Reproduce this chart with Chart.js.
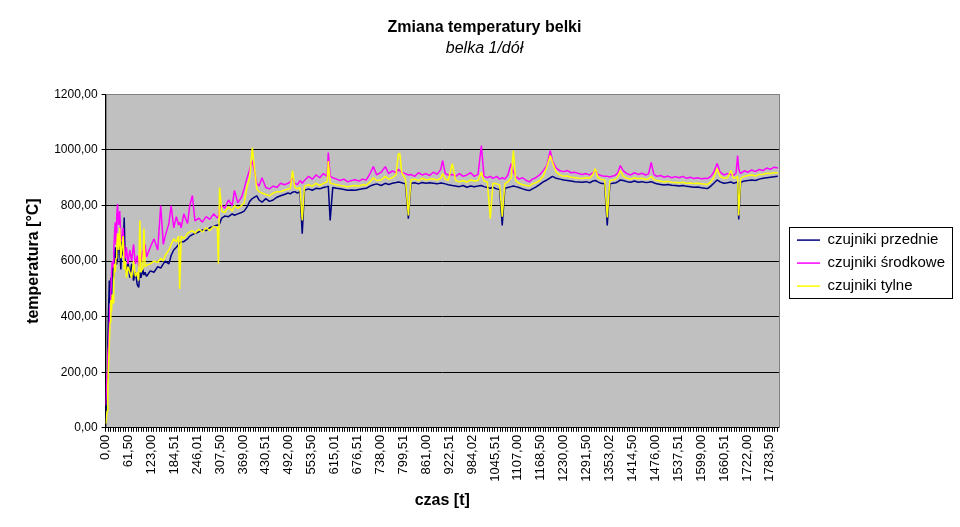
<!DOCTYPE html>
<html>
<head>
<meta charset="utf-8">
<title>Zmiana temperatury belki</title>
<script src="https://cdn.jsdelivr.net/npm/chart.js@4.4.0/dist/chart.umd.min.js"></script>
<style>
  body { margin: 0; background: #fff; }
  #wrap { width: 960px; height: 527px; }
</style>
</head>
<body>
<div id="wrap"><canvas id="wykres"></canvas></div>
<script>

// czas pomiaru [s] - wspolny dla wszystkich czujnikow
const czas = [
  0, 2, 4, 6, 8, 10, 12, 14, 16, 18,
  20, 22, 24, 26, 28, 30, 32, 35, 38, 41,
  44, 47, 50, 53, 56, 60, 65, 70, 75, 80,
  85, 89, 92, 95, 100, 103, 106, 110, 120, 130,
  140, 148, 155, 160, 170, 176, 183, 190, 196, 199,
  203, 210, 220, 226, 233, 240, 250, 260, 270, 280,
  290, 300, 303, 306, 312, 320, 330, 340, 346, 355,
  365, 372, 380, 387, 394, 400, 406, 412, 420, 430,
  440, 450, 460, 470, 480, 490, 496, 502, 508, 515,
  522, 528, 534, 545, 555, 565, 575, 585, 595, 598,
  603, 610, 620, 630, 640, 650, 660, 670, 680, 690,
  700, 710, 719, 728, 740, 751, 760, 770, 780, 786,
  790, 795, 805, 813, 820, 830, 840, 850, 860, 870,
  880, 890, 900, 905, 912, 920, 931, 940, 950, 960,
  970, 980, 990, 1000, 1009, 1016, 1025, 1033, 1040, 1050,
  1058, 1065, 1072, 1080, 1089, 1095, 1101, 1110, 1120, 1130,
  1138, 1146, 1155, 1165, 1175, 1185, 1194, 1200, 1210, 1220,
  1230, 1240, 1250, 1260, 1270, 1280, 1290, 1300, 1308, 1315,
  1322, 1330, 1340, 1347, 1354, 1362, 1370, 1376, 1382, 1390,
  1400, 1410, 1420, 1430, 1440, 1450, 1458, 1465, 1472, 1480,
  1490, 1500, 1510, 1520, 1530, 1540, 1550, 1560, 1570, 1580,
  1590, 1600, 1610, 1616, 1625, 1633, 1642, 1650, 1660, 1670,
  1679, 1686, 1693, 1697, 1700, 1705, 1715, 1725, 1735, 1745,
  1755, 1765, 1775, 1785, 1795, 1805
];

// czujniki przednie [C]
const przednie = [
  30, 80, 180, 300, 420, 530, 450, 540, 480, 560,
  590, 540, 610, 650, 590, 640, 600, 680, 640, 570,
  690, 620, 757, 580, 560, 600, 540, 590, 530, 560,
  515, 505, 560, 540, 570, 550, 560, 545, 565, 560,
  580, 575, 590, 600, 590, 620, 640, 650, 660, 665,
  670, 670, 680, 690, 695, 700, 705, 712, 710, 720,
  725, 730, 728, 735, 755, 762, 760, 770, 765, 770,
  775, 780, 795, 815, 825, 830, 835, 820, 812, 825,
  815, 820, 830, 835, 840, 845, 842, 848, 850, 845,
  850, 699, 855, 860, 855, 862, 860, 865, 868, 870,
  746, 865, 862, 860, 858, 855, 856, 855, 858, 860,
  862, 870, 875, 878, 872, 880, 876, 880, 883, 885,
  884, 882, 878, 753, 880, 882, 878, 883, 880, 882,
  880, 878, 881, 880, 878, 875, 872, 870, 868, 872,
  866, 870, 868, 870, 872, 868, 865, 862, 866, 860,
  858, 728, 862, 865, 868, 870, 868, 865, 860, 856,
  854, 860, 866, 875, 885, 892, 900, 905, 898, 895,
  892, 890, 888, 886, 885, 884, 886, 882, 888, 890,
  885, 880, 878, 728, 878, 880, 882, 886, 892, 890,
  886, 884, 888, 884, 886, 883, 884, 886, 882, 878,
  876, 874, 876, 873, 872, 870, 872, 869, 868, 866,
  867, 864, 862, 861, 870, 880, 892, 885, 880, 882,
  885, 880, 883, 885, 750, 884, 888, 890, 892, 890,
  895, 898, 900, 902, 904, 905
];

// czujniki srodkowe [C]
const srodkowe = [
  80, 140, 200, 260, 300, 360, 440, 480, 560, 600,
  580, 640, 700, 740, 660, 760, 805, 730, 780, 690,
  670, 720, 640, 610, 650, 590, 640, 600, 660, 590,
  620, 580, 610, 600, 640, 620, 660, 615, 650, 680,
  640, 800, 660, 690, 735, 800, 720, 760, 730, 740,
  720, 770, 735, 800, 836, 745, 755, 740, 760, 750,
  770, 755, 760, 790, 800, 790, 820, 800, 854, 810,
  830, 860, 900, 930, 962, 920, 880, 870, 900, 865,
  860, 870, 865, 880, 875, 880, 885, 900, 880, 875,
  890, 880, 890, 905, 895, 910, 900, 915, 905, 991,
  905, 900, 895, 890, 895, 885, 890, 893, 888, 895,
  892, 915, 940, 910, 920, 940, 915, 925, 918, 930,
  925, 920, 915, 910, 912, 905, 918, 910, 915, 908,
  920, 912, 930, 962, 915, 910, 912, 905, 915, 905,
  910, 918, 905, 912, 1016, 905, 900, 905, 898, 905,
  895, 900, 895, 910, 951, 920, 905, 895, 900, 890,
  885, 895, 900, 910, 925, 945, 998, 960, 935, 925,
  922, 926, 918, 920, 915, 912, 915, 910, 918, 925,
  912, 908, 905, 905, 903, 906, 910, 920, 944, 925,
  915, 910, 918, 912, 916, 910, 914, 955, 912, 905,
  908, 902, 906, 900, 904, 900, 905, 898, 902, 897,
  900, 896, 898, 897, 905, 920, 951, 920, 910, 915,
  912, 908, 918, 980, 930, 915, 925, 920, 928, 922,
  930, 926, 935, 930, 938, 935
];

// czujniki tylne [C]
const tylne = [
  15, 30, 60, 150, 230, 300, 380, 460, 420, 480,
  450, 520, 590, 560, 610, 650, 700, 640, 720, 610,
  650, 690, 570, 600, 540, 580, 560, 540, 600, 545,
  560, 530, 746, 560, 575, 717, 580, 585, 590, 600,
  595, 610, 600, 620, 640, 660, 680, 670, 690, 500,
  690, 680, 700, 705, 710, 700, 715, 705, 720, 710,
  725, 720, 591, 865, 780, 775, 795, 780, 800, 790,
  800, 810, 870, 900, 1009, 930, 860, 850, 845, 840,
  835, 845, 850, 850, 855, 860, 860, 926, 865, 860,
  865, 746, 870, 875, 870, 880, 872, 880, 885, 960,
  880, 878, 875, 872, 870, 868, 870, 872, 870, 875,
  873, 885, 900, 890, 892, 905, 895, 900, 910, 985,
  988, 920, 895, 764, 893, 895, 890, 898, 892, 895,
  896, 892, 898, 915, 895, 890, 951, 890, 885, 890,
  884, 892, 888, 890, 920, 888, 885, 753, 880, 878,
  875, 760, 878, 885, 900, 998, 890, 880, 875, 872,
  870, 878, 882, 890, 905, 940, 980, 955, 920, 910,
  905, 906, 902, 900, 898, 897, 900, 898, 910, 933,
  900, 895, 892, 757, 890, 892, 895, 905, 926, 905,
  898, 895, 900, 896, 898, 894, 896, 905, 894, 890,
  888, 885, 887, 884, 883, 882, 884, 880, 881, 879,
  880, 878, 877, 876, 885, 900, 933, 905, 898, 900,
  926, 898, 900, 905, 764, 898, 905, 908, 910, 906,
  912, 912, 916, 915, 918, 918
];

// opisy osi czasu
const etykietyCzasu = [
  '0,00', '61,50', '123,00', '184,51', '246,01', '307,50', '369,00', '430,51',
  '492,00', '553,50', '615,01', '676,51', '738,00', '799,51', '861,00', '922,51',
  '984,02', '1045,51', '1107,00', '1168,50', '1230,00', '1291,50', '1353,02', '1414,50',
  '1476,00', '1537,51', '1599,00', '1660,51', '1722,00', '1783,50'
];

const maxCzas = 1808;
const wartosciEtykiet = etykietyCzasu.map(function (s) { return parseFloat(s.replace(',', '.')); });

Chart.defaults.font.family = '"Liberation Sans", Arial, sans-serif';
Chart.defaults.color = '#000';

function punkty(wartosci) {
  return czas.map(function (t, i) { return { x: t, y: wartosci[i] }; });
}

// podzialka glowna + 8 pomocniczych kresek miedzy etykietami
function kreskiCzasu() {
  var ticks = [];
  for (var i = 0; i < wartosciEtykiet.length; i++) {
    var a = wartosciEtykiet[i];
    var b = i + 1 < wartosciEtykiet.length ? wartosciEtykiet[i + 1] : a + 61.5;
    for (var k = 0; k < 9; k++) {
      var v = k === 0 ? a : a + (b - a) * k / 9;
      if (v <= maxCzas) ticks.push({ value: v });
    }
  }
  return ticks;
}

// szare tlo obszaru wykresu
const tloWykresu = {
  id: 'tloWykresu',
  beforeDraw: function (chart) {
    var a = chart.chartArea, ctx = chart.ctx;
    ctx.save();
    ctx.fillStyle = '#C0C0C0';
    ctx.fillRect(a.left, a.top, a.right - a.left, a.bottom - a.top);
    ctx.strokeStyle = '#808080';
    ctx.lineWidth = 1;
    ctx.strokeRect(Math.round(a.left) + 0.5, Math.round(a.top) + 0.5,
      Math.round(a.right - a.left), Math.round(a.bottom - a.top));
    ctx.restore();
  }
};

// legenda odsunieta o 10 px od obszaru wykresu, z ramka
const ramkaLegendy = {
  id: 'ramkaLegendy',
  afterLayout: function (chart) {
    var lg = chart.legend;
    if (lg) { lg.left += 10; lg.right += 10; }
  },
  afterDraw: function (chart) {
    var boxes = chart.legend.legendHitBoxes;
    if (!boxes || !boxes.length) return;
    var l = Infinity, t = Infinity, r = -Infinity, b = -Infinity;
    boxes.forEach(function (h) {
      l = Math.min(l, h.left); t = Math.min(t, h.top);
      r = Math.max(r, h.left + h.width); b = Math.max(b, h.top + h.height);
    });
    var ctx = chart.ctx;
    ctx.save();
    ctx.strokeStyle = '#000';
    ctx.lineWidth = 1;
    ctx.strokeRect(Math.round(l - 8) + 0.5, Math.round(t - 6) + 0.5,
      Math.round(r - l + 15), Math.round(b - t + 10));
    ctx.restore();
  }
};

function seria(nazwa, dane, kolor, kolejnosc) {
  return {
    label: nazwa,
    data: punkty(dane),
    borderColor: kolor,
    backgroundColor: kolor,
    borderWidth: 1.5,
    pointRadius: 0,
    borderJoinStyle: 'bevel',
    fill: false,
    tension: 0,
    order: kolejnosc
  };
}

new Chart(document.getElementById('wykres'), {
  type: 'line',
  data: {
    datasets: [
      seria('czujniki przednie', przednie, '#000080', 3),
      seria('czujniki środkowe', srodkowe, '#FF00FF', 2),
      seria('czujniki tylne', tylne, '#FFFF00', 1)
    ]
  },
  plugins: [tloWykresu, ramkaLegendy],
  options: {
    responsive: true,
    maintainAspectRatio: false,
    animation: false,
    events: [],
    layout: { padding: { left: 24, right: 15, top: 0, bottom: 9 } },
    plugins: {
      title: {
        display: true,
        text: 'Zmiana temperatury belki',
        font: { size: 16, weight: 'bold' },
        padding: { top: 18, bottom: 2 }
      },
      subtitle: {
        display: true,
        text: 'belka 1/dół',
        font: { size: 16, style: 'italic', weight: 'normal' },
        padding: { top: 0, bottom: 36 }
      },
      legend: {
        position: 'right',
        title: { display: true, text: ' ', font: { size: 1 }, padding: { top: 3, bottom: 4 } },
        labels: {
          usePointStyle: true,
          pointStyle: 'line',
          pointStyleWidth: 23,
          boxHeight: 15,
          padding: 8,
          font: { size: 15 },
          sort: function (a, b) { return a.datasetIndex - b.datasetIndex; }
        }
      },
      tooltip: { enabled: false }
    },
    scales: {
      x: {
        type: 'linear',
        min: 0,
        max: maxCzas,
        afterBuildTicks: function (scale) { scale.ticks = kreskiCzasu(); },
        ticks: {
          autoSkip: false,
          minRotation: 90,
          maxRotation: 90,
          padding: 3,
          font: { size: 13 },
          callback: function (value) {
            var i = wartosciEtykiet.indexOf(value);
            return i >= 0 ? etykietyCzasu[i] : '';
          }
        },
        grid: { drawOnChartArea: false, color: '#000', tickLength: 4 },
        border: { color: '#000' },
        title: {
          display: true,
          text: 'czas [t]',
          font: { size: 16, weight: 'bold' },
          padding: { top: 6, bottom: 8 }
        }
      },
      y: {
        min: 0,
        max: 1200,
        ticks: {
          stepSize: 200,
          padding: 4,
          font: { size: 12 },
          callback: function (value) { return value.toFixed(2).replace('.', ','); }
        },
        grid: {
          color: function (ctx) { return ctx.tick && ctx.tick.value === 1200 ? '#808080' : '#000'; },
          tickColor: '#000',
          tickLength: 4
        },
        border: { color: '#000' },
        title: {
          display: true,
          text: 'temperatura [°C]',
          font: { size: 16, weight: 'bold' },
          padding: { top: 0, bottom: 7 }
        }
      }
    }
  }
});
</script>
</body>
</html>
